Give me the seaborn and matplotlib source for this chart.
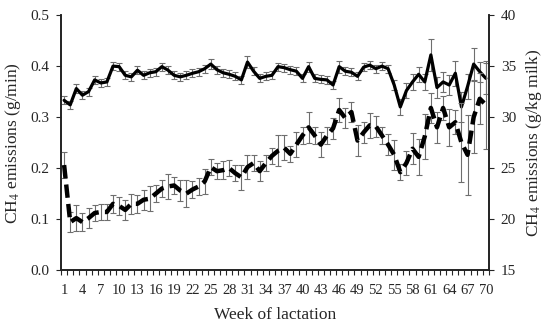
import numpy as np
import pandas as pd
import matplotlib
matplotlib.use('Agg')
import matplotlib.pyplot as plt
import seaborn as sns

weeks = list(range(1, 71))

# CH4 emissions g/min (left axis)
g_min = [0.333, 0.324, 0.356, 0.343, 0.350, 0.373, 0.367, 0.369, 0.400, 0.399,
         0.382, 0.379, 0.392, 0.382, 0.387, 0.389, 0.399, 0.392, 0.382, 0.379,
         0.382, 0.386, 0.389, 0.395, 0.404, 0.393, 0.387, 0.384, 0.380, 0.373,
         0.408, 0.390, 0.376, 0.380, 0.382, 0.399, 0.397, 0.393, 0.390, 0.376,
         0.399, 0.376, 0.374, 0.373, 0.363, 0.399, 0.390, 0.388, 0.380, 0.398,
         0.402, 0.395, 0.400, 0.395, 0.363, 0.320, 0.352, 0.369, 0.384, 0.369,
         0.422, 0.358, 0.369, 0.363, 0.386, 0.320, 0.360, 0.404, 0.389, 0.376]
g_min_err = [0.008, 0.008, 0.008, 0.008, 0.008, 0.008, 0.008, 0.008, 0.008, 0.008,
             0.008, 0.008, 0.008, 0.008, 0.008, 0.008, 0.008, 0.008, 0.008, 0.008,
             0.008, 0.008, 0.008, 0.008, 0.010, 0.008, 0.008, 0.008, 0.008, 0.008,
             0.012, 0.008, 0.008, 0.008, 0.008, 0.008, 0.008, 0.008, 0.008, 0.008,
             0.010, 0.008, 0.008, 0.008, 0.008, 0.012, 0.008, 0.008, 0.008, 0.008,
             0.008, 0.008, 0.008, 0.008, 0.010, 0.015, 0.015, 0.015, 0.015, 0.015,
             0.032, 0.020, 0.020, 0.020, 0.025, 0.030, 0.025, 0.032, 0.020, 0.030]

# CH4 emissions g/kg milk (right axis)
g_kg = [25.3, 19.7, 20.1, 19.7, 20.1, 20.6, 20.7, 20.7, 21.5, 21.3,
        20.9, 21.5, 21.5, 21.9, 22.0, 22.5, 23.0, 23.2, 23.3, 22.8,
        22.5, 22.9, 23.2, 23.7, 25.1, 24.7, 24.8, 25.0, 24.5, 24.1,
        25.1, 25.5, 24.7, 25.5, 26.2, 26.7, 27.0, 26.4, 27.3, 28.2,
        29.0, 28.2, 27.3, 28.2, 28.9, 30.7, 29.9, 30.5, 27.7, 28.5,
        29.2, 29.1, 28.2, 27.3, 26.3, 24.6, 25.5, 26.9, 26.1, 28.1,
        30.9, 29.0, 30.9, 29.0, 29.5, 27.5, 26.3, 30.0, 31.8, 31.2]
g_kg_err = [1.3, 1.0, 1.3, 0.9, 1.0, 0.8, 0.8, 0.8, 0.9, 0.9,
            1.0, 1.0, 0.9, 1.0, 1.2, 0.8, 0.8, 1.2, 0.8, 1.0,
            1.3, 0.8, 0.8, 1.2, 0.8, 0.8, 0.9, 0.8, 0.8, 1.2,
            1.2, 0.8, 1.0, 0.8, 0.8, 1.5, 1.2, 0.8, 1.2, 0.8,
            1.5, 0.8, 1.2, 0.8, 1.0, 1.2, 1.0, 1.0, 1.5, 1.0,
            1.2, 1.0, 0.8, 1.0, 1.5, 0.8, 1.2, 1.5, 1.8, 2.2,
            1.5, 1.5, 1.2, 1.8, 1.2, 3.9, 3.9, 3.5, 2.5, 4.3]

df = pd.DataFrame({'week': weeks, 'g_min': g_min, 'g_kg': g_kg})

sns.set_style('ticks')
plt.rcParams['font.family'] = ['Liberation Serif', 'DejaVu Serif']
plt.rcParams['mathtext.fontset'] = 'stix'

fig = plt.figure(figsize=(5.5, 3.29), dpi=100)
ax = fig.add_axes([0.111, 0.179, 0.778, 0.775])
ax2 = ax.twinx()

err_kw = dict(fmt='none', ecolor='#6e6e6e', elinewidth=0.8, capsize=2.5, capthick=0.8)
ax.errorbar(weeks, g_min, yerr=g_min_err, zorder=1, **err_kw)
ax2.errorbar(weeks, g_kg, yerr=g_kg_err, zorder=1, **err_kw)

sns.lineplot(data=df, x='week', y='g_min', ax=ax, color='black', linewidth=2.3, zorder=3)
sns.lineplot(data=df, x='week', y='g_kg', ax=ax2, color='black', linewidth=3.2,
             dashes=False, zorder=3)
ax2.lines[-1].set_dashes((3.0, 1.4))
ax2.lines[-1].set_solid_capstyle('butt')

ax.set_xlim(0.5, 70.5)
ax.set_ylim(0, 0.5)
ax2.set_ylim(15, 40)
ax.set_yticks(np.arange(0, 0.51, 0.1))
ax.set_yticklabels([f'{v:.1f}' for v in np.arange(0, 0.51, 0.1)])
ax2.set_yticks(range(15, 41, 5))

xt = weeks[::3]
ax.set_xticks(xt)
ax.set_xticklabels([str(w) for w in xt])
ax.set_xticks(np.arange(0.5, 71, 1), minor=True)
ax.tick_params(axis='x', which='major', length=0, labelsize=10.5, pad=10)
ax.tick_params(axis='x', which='minor', length=3.5, width=0.8, direction='out')
ax.tick_params(axis='y', length=3.5, width=0.8, labelsize=11, direction='out', pad=5)
ax2.tick_params(axis='y', length=3.5, width=0.8, labelsize=11, direction='out', pad=5)

for a in (ax, ax2):
    for s in a.spines.values():
        s.set_color('#222222')
        s.set_linewidth(1.2)
    a.spines['top'].set_visible(False)
    a.grid(False)

ax.set_xlabel('Week of lactation', fontsize=12.5, labelpad=7)
ax.set_ylabel('CH$_4$ emissions (g/min)', fontsize=12.5, labelpad=5)
ax2.set_ylabel('CH$_4$ emissions (g/kg milk)', fontsize=12.5, labelpad=6)

fig.savefig('out.png', dpi=100)
